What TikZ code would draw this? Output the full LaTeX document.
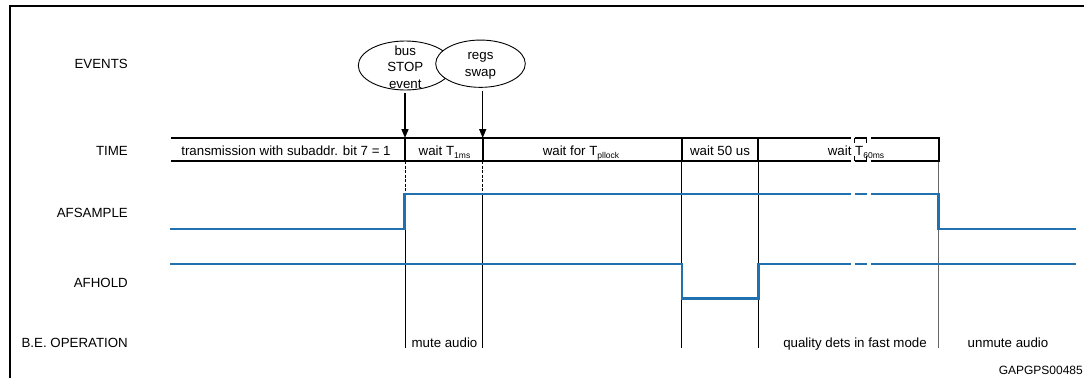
\documentclass[tikz,border=0pt]{standalone}
\usepackage{fontspec}
\setmainfont{Liberation Sans}
\usetikzlibrary{arrows.meta,shapes.geometric}
\definecolor{sigblue}{HTML}{2171B1}
\newcommand\lowsub[1]{\raisebox{-2.5pt}{\fontsize{8.5}{8.5}\selectfont #1}}
\begin{document}
\begin{tikzpicture}[x=1pt,y=-1pt,
  lbl/.style={anchor=base east, font=\fontsize{13.3}{16}\selectfont, inner sep=0},
  celltxt/.style={anchor=base, font=\fontsize{13.3}{16}\selectfont, inner sep=0},
  rowline/.style={line width=2pt},
  breaktick/.style={line width=1pt},
  sig/.style={line width=2.4pt, draw=sigblue, line join=miter},
  thinline/.style={line width=0.9pt},
  guide/.style={line width=0.8pt, dash pattern=on 3pt off 1.5pt},
  evt/.style={ellipse, draw, line width=0.9pt, inner sep=0, fill=white},
  evtxt/.style={align=center, inner sep=0},
  evarrow/.style={line width=1.5pt, -{Triangle[length=9pt,width=7pt]}, shorten <=3pt}
]
\useasboundingbox (0,0) rectangle (1084,378);

% frame
\draw[line width=2.6pt, line join=miter] (10,378) -- (10,6) -- (1084,6);

% row labels
\node[lbl] (lEv) at (128,68) {EVENTS};
\node[lbl] (lTime) at (128,155.5) {TIME};
\node[lbl] (lAfs) at (128,217.5) {AFSAMPLE};
\node[lbl] (lAfh) at (128,287) {AFHOLD};
\node[lbl] (lBe) at (128,347.5) {B.E. OPERATION};

% vertical guides below the time row
\draw[guide] (405,161) -- (405,194);
\draw[guide] (482.7,161) -- (482.7,194);
\draw[thinline] (405,229) -- (405,348);
\draw[thinline] (482.7,194) -- (482.7,348);
\draw[thinline] (681.7,161) -- (681.7,348);
\draw[thinline] (758.3,161) -- (758.3,348);
\draw[line width=1.6pt, draw=black!60] (938.5,161) -- (938.5,348);

% time row
\draw[rowline] (171,138) -- (850.5,138);
\draw[rowline] (854.5,138) -- (866.5,138);
\draw[rowline, line join=miter] (870.5,138) -- (939,138) -- (939,161) -- (870.5,161);
\draw[rowline] (854.5,161) -- (866.5,161);
\draw[rowline] (850.5,161) -- (171,161);
\draw[breaktick] (854.5,138) -- (854.5,143) (866.5,138) -- (866.5,143);
\draw[breaktick] (854.5,161) -- (854.5,156) (866.5,161) -- (866.5,156);
\draw[rowline] (405,138) -- (405,161);
\draw[rowline] (482.7,138) -- (482.7,161);
\draw[rowline] (681.7,138) -- (681.7,161);
\draw[rowline] (758.3,138) -- (758.3,161);

\node[celltxt] (c1) at (286,155.5) {transmission with subaddr. bit 7 = 1};
\node[celltxt] (c2) at (444.5,155.5) {wait T\lowsub{1ms}};
\node[celltxt] (c3) at (581,155.5) {wait for T\lowsub{pllock}};
\node[celltxt] (c4) at (720,155.5) {wait 50 us};
\node[celltxt] (c5) at (856,155.5) {wait T\lowsub{60ms}};

% signals
\draw[sig] (170,229) -- (404.6,229) -- (404.6,194) -- (850.5,194);
\draw[sig] (854.5,194) -- (866.5,194);
\draw[sig] (870.5,194) -- (938.5,194) -- (938.5,229) -- (1076,229);
\draw[sig] (170,264) -- (681.7,264) -- (681.7,298.5) -- (758.3,298.5) -- (758.3,264) -- (850.5,264);
\draw[sig] (854.5,264) -- (866.5,264);
\draw[sig] (870.5,264) -- (1076,264);

% back-end operation texts
\node[celltxt] (b1) at (444.5,347) {mute audio};
\node[celltxt] (b2) at (855,347) {quality dets in fast mode};
\node[celltxt] (b3) at (1008,347) {unmute audio};
\node[anchor=base east, font=\fontsize{12}{14}\selectfont, inner sep=0] (fig) at (1083,374) {GAPGPS00485};

% events
\node[evt, minimum width=94pt, minimum height=49pt,
  label={[evtxt, yshift=-1.25pt, font=\fontsize{13.3}{16.5}\selectfont]center:bus\\STOP\\event}] (e1) at (405.3,65.5) {};
\node[evt, minimum width=89.6pt, minimum height=47.3pt,
  label={[evtxt, yshift=-2.25pt, font=\fontsize{13.3}{17}\selectfont]center:regs\\swap}] (e2) at (480.5,63.7) {};

\coordinate (hitA) at (405,138);
\coordinate (hitB) at (482.7,138);
\draw[evarrow] (e1.south -| hitA) -- (hitA);
\draw[evarrow] (e2.south -| hitB) -- (hitB);
\end{tikzpicture}
\end{document}
